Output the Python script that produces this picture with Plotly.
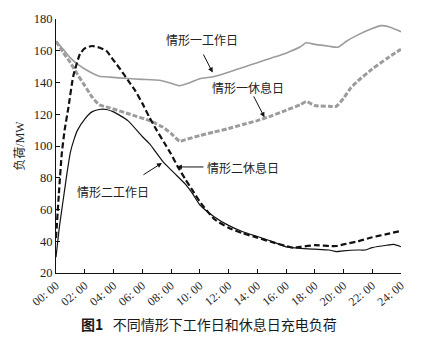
import plotly.graph_objects as go

# ---- data (hours, MW) ----
h_c1_work = [0, 0.5, 1, 1.5, 2, 2.5, 3, 3.75, 5, 6, 7.2, 8, 8.6, 9.2, 10, 11, 12, 13, 14, 15, 16, 17, 17.4, 18, 19, 19.6, 20.2, 21, 22, 22.6, 23.2, 24]
v_c1_work = [166, 161, 155.5, 151.5, 148.5, 146, 144, 143.4, 142.5, 142, 141.4, 139.5, 138, 139.5, 142.4, 143.8, 146.5, 149.5, 152.5, 155.5, 158.5, 162.5, 165, 164, 162.8, 162.2, 166, 170, 174, 175.8, 175, 172]

h_c1_rest = [0, 0.5, 1, 1.5, 2, 2.5, 3, 3.75, 5.15, 6.5, 7.45, 8, 8.6, 9, 10, 11, 12, 13, 14, 15, 16, 17, 17.4, 18, 19, 19.5, 20, 20.5, 21, 22, 23, 24]
v_c1_rest = [166, 159, 152.5, 145, 138, 131, 126, 124, 120, 116, 111.8, 108, 103, 104, 106.6, 108.8, 111, 113.5, 116, 119, 122.5, 126, 128, 125.5, 125, 125, 130, 136.5, 141, 148.5, 155, 161]

h_c2_work = [0, 0.25, 0.5, 0.75, 1, 1.25, 1.5, 2, 2.5, 3, 3.5, 4, 5, 6, 6.5, 7, 7.5, 8, 8.5, 9, 9.5, 10, 11, 12, 13, 14, 15, 16, 17, 18, 19, 19.5, 20, 21, 21.5, 22, 23, 23.5, 24]
v_c2_work = [30, 50, 66, 82, 96, 104, 110, 117, 121.5, 123, 123, 121.5, 116, 106, 101.5, 95.5, 89.5, 85, 80.5, 76, 70, 63, 55.5, 50, 46, 43, 40, 36.5, 35.5, 35, 34.5, 33.5, 34, 34.5, 34.5, 36, 37.5, 38, 36.5]

h_c2_rest = [0, 0.2, 0.4, 0.6, 0.86, 1.2, 1.67, 2, 2.5, 3, 3.5, 4, 4.5, 5, 5.5, 6, 6.5, 7, 7.5, 8, 8.5, 9, 9.5, 10, 11, 12, 13, 14, 15, 16, 16.5, 17, 18, 19, 19.5, 20, 21, 22, 23, 24]
v_c2_rest = [42, 70, 95, 110, 124, 144, 158, 161.5, 163, 162, 160, 154, 148, 141.5, 135, 127, 118, 110, 102.5, 95, 86.5, 79, 72, 65, 54, 48.5, 45, 42.3, 39.5, 37, 36, 36.5, 37.5, 37, 37, 38, 40, 42.5, 44.5, 46.5]

tick_vals = list(range(0, 25, 2))
tick_text = ["%02d: 00" % t for t in tick_vals]

serif = "Liberation Serif, Noto Sans CJK SC, serif"
cjk = "Noto Sans CJK SC, sans-serif"

fig = go.Figure()
fig.add_trace(go.Scatter(x=h_c1_work, y=v_c1_work, mode="lines",
                         line=dict(color="#9c9c9c", width=1.6, shape="spline", smoothing=0.5)))
fig.add_trace(go.Scatter(x=h_c1_rest, y=v_c1_rest, mode="lines",
                         line=dict(color="#9c9c9c", width=3, dash="5px,2px", shape="spline", smoothing=0.5)))
fig.add_trace(go.Scatter(x=h_c2_work, y=v_c2_work, mode="lines",
                         line=dict(color="#111111", width=1.2, shape="spline", smoothing=0.5)))
fig.add_trace(go.Scatter(x=h_c2_rest, y=v_c2_rest, mode="lines",
                         line=dict(color="#111111", width=2.2, dash="6px,3px", shape="spline", smoothing=0.5)))

labels = [
    ("情形一工作日", 10.15, 167, 10.2, 158.6, 10.9, 146.3),
    ("情形一休息日", 13.35, 137.1, 13.7, 132.2, 14.5, 118.1),
    ("情形二休息日", 13.0, 86.2, 10.36, 86.8, 8.41, 86.8),
    ("情形二工作日", 3.96, 71.5, 5.98, 81.3, 7.37, 89.3),
]
for txt, tx, ty, ax, ay, hx, hy in labels:
    fig.add_annotation(x=tx, y=ty, text=txt, showarrow=False, xref="x", yref="y",
                       font=dict(family=cjk, size=12, color="#222"))
    fig.add_annotation(x=hx, y=hy, ax=ax, ay=ay, axref="x", ayref="y", xref="x", yref="y",
                       text="", showarrow=True, arrowhead=2, arrowsize=1, arrowwidth=1, arrowcolor="#111")

fig.add_annotation(text="<b>图1</b>   不同情形下工作日和休息日充电负荷", xref="paper", yref="paper",
                   x=(209 - 56) / 345, y=-(325 - 273) / 260, xanchor="center", yanchor="middle",
                   showarrow=False, font=dict(family=cjk, size=14, color="#1a1a1a"))

fig.update_layout(
    width=444, height=337,
    margin=dict(l=56, r=43, t=13, b=64),
    paper_bgcolor="white", plot_bgcolor="white",
    showlegend=False,
    xaxis=dict(range=[0, 24], tickvals=tick_vals, ticktext=tick_text, tickangle=-40,
               ticks="inside", ticklen=4, tickcolor="#111", showline=True, linecolor="#111", linewidth=1,
               showgrid=False, zeroline=False, tickfont=dict(family=serif, size=12, color="#222")),
    yaxis=dict(range=[20, 180], dtick=20, tick0=20,
               ticks="inside", ticklen=4, tickcolor="#111", showline=True, linecolor="#111", linewidth=1,
               showgrid=False, zeroline=False, tickfont=dict(family=serif, size=12.5, color="#222"),
               title=dict(text="负荷/MW", font=dict(family=serif, size=12, color="#222"), standoff=6)),
)

fig.write_html("out.html")
